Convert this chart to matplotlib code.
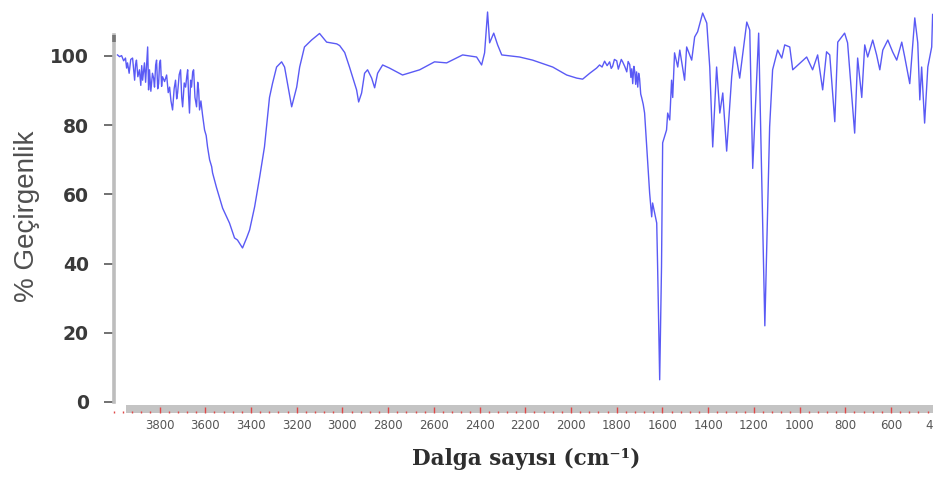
import numpy as np
import matplotlib
matplotlib.use("Agg")
import matplotlib.pyplot as plt
from matplotlib.ticker import MultipleLocator

# IR spectrum, wavenumber (cm-1) vs % transmittance
wavenumber = [
    3984, 3975, 3966, 3957, 3949, 3944, 3940, 3933, 3926, 3918, 3913, 3909,
    3905, 3901, 3895, 3888, 3882, 3878, 3874, 3866, 3861, 3857, 3852, 3848,
    3844, 3838, 3831, 3826, 3822, 3817, 3813, 3808, 3804, 3800, 3796, 3791,
    3787, 3778, 3769, 3762, 3756, 3750, 3743, 3736, 3730, 3725, 3721, 3714,
    3708, 3703, 3699, 3692, 3686, 3681, 3677, 3673, 3669, 3664, 3660, 3655,
    3651, 3645, 3638, 3633, 3629, 3625, 3619, 3612, 3603, 3596, 3590, 3581,
    3572, 3568,
    3551, 3524, 3494, 3472, 3459, 3437, 3419, 3406, 3384, 3362, 3341,
    3319, 3306, 3288, 3266, 3253, 3240, 3222, 3200, 3187, 3166, 3135, 3100,
    3069, 3025, 3012, 2990, 2969, 2956, 2938, 2929, 2916, 2903, 2890, 2872,
    2859, 2846, 2824, 2794, 2737, 2662, 2597, 2544, 2474, 2413, 2391, 2378,
    2365, 2356, 2338, 2321, 2303, 2225, 2168, 2080, 2019, 1975, 1949, 1918,
    1888, 1875, 1864, 1853, 1842, 1831, 1824, 1818, 1810, 1800, 1793, 1787,
    1780, 1774, 1765, 1756, 1750, 1743, 1738, 1734, 1730, 1725, 1721, 1717,
    1713, 1708, 1704, 1700, 1695, 1691, 1684, 1678,
    1665, 1656, 1647, 1643, 1625, 1621,
    1612, 1604, 1599, 1582, 1577, 1568, 1560, 1555, 1547, 1533, 1524, 1503,
    1494, 1472, 1459, 1446, 1424, 1406, 1393, 1380, 1363, 1349, 1336, 1319,
    1297, 1284, 1262, 1231, 1218, 1205, 1179, 1152, 1131, 1118, 1096, 1078,
    1065, 1043, 1030, 969, 943, 921, 899, 882, 868, 846, 833, 803,
    790, 759, 746, 728, 715, 702, 680, 663, 649, 636, 614, 593,
    575, 553, 540, 518, 496, 483, 474, 466, 453, 439, 422, 418,
]
transmittance = [
    100.3, 99.8, 100.1, 98.6, 99.4, 96.5, 98.0, 95.0, 99.0, 99.4, 95.8, 93.0,
    97.5, 98.8, 94.0, 96.0, 91.5, 97.2, 93.0, 98.0, 92.4, 96.8, 102.6, 90.2,
    96.0, 89.8, 95.0, 93.6, 91.0, 97.4, 98.8, 90.5, 92.0, 97.9, 98.8, 91.2,
    94.0, 92.6, 94.5, 89.4, 91.0, 87.0, 84.4, 90.6, 93.0, 87.6, 89.3, 94.6,
    96.0, 88.0, 85.3, 92.2, 91.0, 94.0, 96.0, 88.6, 83.5, 93.0, 91.0, 95.4,
    96.0, 88.0, 85.3, 92.4, 90.2, 84.4, 87.0, 83.0, 78.6, 77.0, 73.7, 70.0,
    68.0, 66.2,
    62.0, 56.0, 51.7, 47.4, 46.8, 44.5, 47.4, 49.7, 56.4, 65.0, 73.7,
    88.0, 92.0, 96.8, 98.3, 96.8, 92.0, 85.3, 91.0, 96.8, 102.6, 104.6, 106.5,
    104.0, 103.5, 103.0, 101.0, 96.8, 94.0, 90.2, 86.7, 89.3, 95.0, 96.0, 93.6,
    90.8, 95.0, 97.4, 96.5, 94.5, 96.0, 98.3, 98.0, 100.3, 99.7, 97.4, 100.9,
    112.7, 103.8, 106.6, 103.2, 100.3, 99.7, 98.8, 96.8, 94.5, 93.6, 93.3, 95.0,
    96.5, 97.4, 96.8, 98.5, 97.2, 98.3, 96.4, 97.0, 99.0, 98.6, 96.2, 97.5,
    99.0, 98.3, 97.0, 95.4, 98.4, 97.5, 93.8, 96.3, 92.0, 97.0, 95.5, 91.8,
    95.4, 91.0, 95.0, 93.5, 89.0, 88.0, 86.0, 83.5,
    70.0, 60.4, 53.5, 57.5, 51.7, 39.0,
    6.4, 39.0, 74.9, 78.6, 83.5, 81.5, 93.0, 88.0, 100.9, 96.8, 101.7, 93.0,
    102.6, 98.8, 105.5, 107.0, 112.4, 109.5, 96.8, 73.7, 96.8, 83.5, 89.3, 72.5,
    94.0, 102.6, 93.6, 109.8, 107.5, 67.5, 106.6, 22.0, 79.5, 96.0, 101.7, 99.4,
    103.2, 102.6, 96.0, 99.7, 96.0, 100.3, 90.2, 101.2, 100.3, 81.0, 104.0, 106.6,
    103.8, 77.7, 99.4, 88.0, 103.2, 99.7, 104.6, 100.3, 96.0, 101.7, 104.6, 101.2,
    98.8, 104.0, 99.7, 92.0, 111.0, 103.8, 87.3, 96.8, 80.6, 96.8, 102.6, 112.0,
]
y_ticks = [0, 20, 40, 60, 80, 100]
x_ticks = list(range(3800, 399, -200))

assert len(wavenumber) == len(transmittance)

fig = plt.figure(figsize=(9.33, 4.79), dpi=100)
ax = fig.add_axes([0.122, 0.1378, 0.882, 0.7887])

ax.plot(wavenumber, transmittance, color="#5a5af5", lw=1.0, clip_on=False, zorder=3)

ax.set_xlim(4000, 400)
ax.set_ylim(-3.2, 106)

# gray bar along the bottom carrying red ticks
ax.axhspan(-3.2, -0.9, xmin=0.0146, xmax=1.0, color="#c4c4c4", lw=0, zorder=1)
for s in ["top", "right", "bottom"]:
    ax.spines[s].set_visible(False)
ax.spines["left"].set_color("#bdbdbd")
ax.spines["left"].set_linewidth(2.6)
ax.spines["left"].set_bounds(0, 106)
ax.plot([0, 0], [104, 106], transform=ax.get_yaxis_transform(), color="#777777",
        lw=2.6, solid_capstyle="butt", clip_on=False, zorder=4)

ax.set_xticks(x_ticks)
ax.xaxis.set_minor_locator(MultipleLocator(40))
ax.tick_params(axis="x", which="major", direction="in", length=4.5, width=1.0,
               color="#e04848", pad=4, labelsize=8.5, labelcolor="#555555")
ax.tick_params(axis="x", which="minor", direction="in", length=1.8, width=1.0,
               color="#e04848")
for lab in ax.get_xticklabels():
    lab.set_family(["Liberation Sans Narrow", "DejaVu Sans"])

ax.set_yticks(y_ticks)
ax.tick_params(axis="y", direction="out", length=7, width=1.3, color="#666666",
               pad=11, labelsize=13.5, labelcolor="#3a3a3a")
for lab in ax.get_yticklabels():
    lab.set_fontweight("bold")

fig.text(27 / 933, 1 - 216 / 479, "% Geçirgenlik", rotation=90, ha="center",
         va="center", fontsize=20, color="#505050", family="Liberation Sans")
fig.text(526 / 933, 1 - 459 / 479, "Dalga sayısı (cm⁻¹)", ha="center", va="center",
         fontsize=15.5, fontweight="bold", color="#2e2e2e", family="DejaVu Serif")

fig.savefig("out.png", dpi=100)
